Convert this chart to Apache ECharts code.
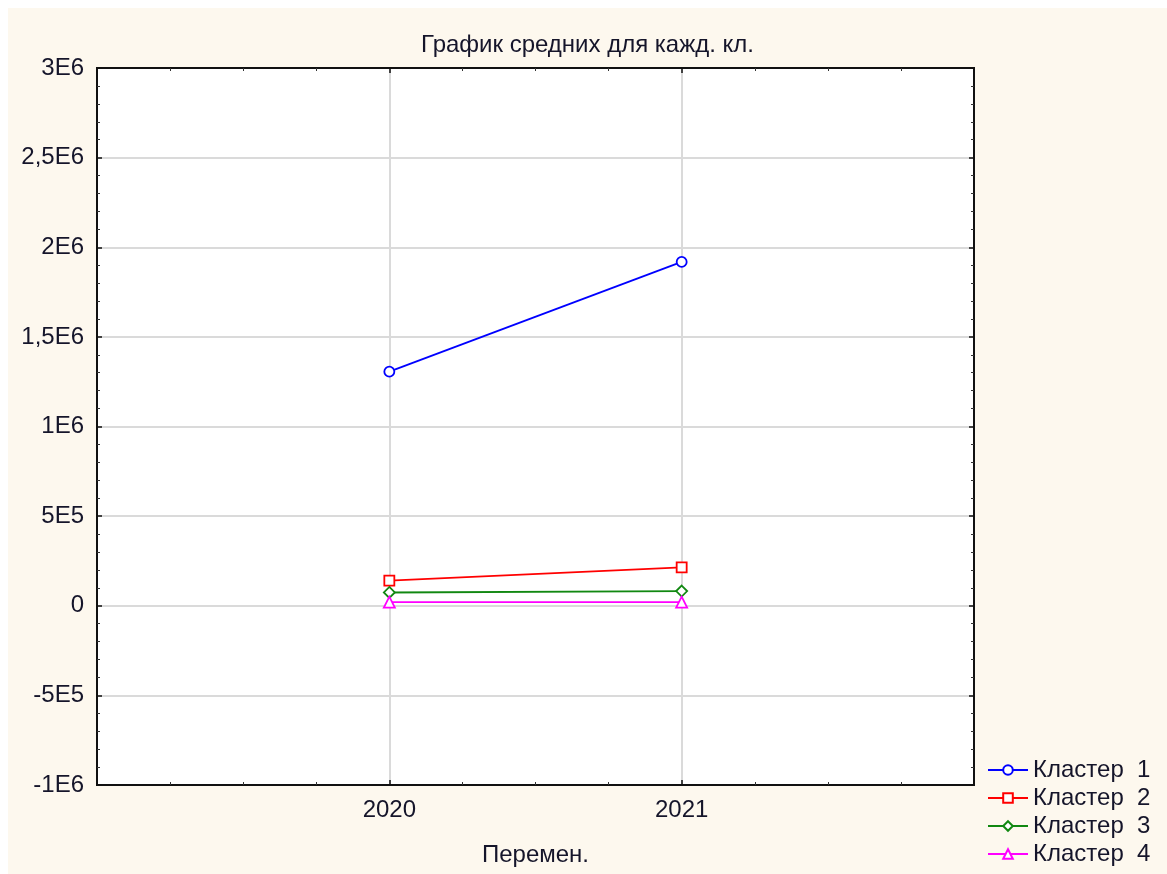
<!DOCTYPE html>
<html>
<head>
<meta charset="utf-8">
<script src="https://cdn.jsdelivr.net/npm/echarts@6/dist/echarts.min.js"></script>
<style>
  html, body { margin: 0; padding: 0; background: #ffffff; }
  #frame { position: absolute; left: 8px; top: 8px; width: 1159px; height: 866px; }
</style>
</head>
<body>
<div id="frame"></div>
<script>
// Variables (years) on the horizontal axis
const years = [2020, 2021];
// Cluster means per year
const cluster1 = [1306000, 1918000];
const cluster2 = [140000, 214000];
const cluster3 = [74000, 82000];
const cluster4 = [20000, 20000];
const seriesNames = ['Кластер  1', 'Кластер  2', 'Кластер  3', 'Кластер  4'];
// Vertical axis tick values and their printed labels
const yTickValues = [-1000000, -500000, 0, 500000, 1000000, 1500000, 2000000, 2500000, 3000000];
const yTickLabels = ['-1E6', '-5E5', '0', '5E5', '1E6', '1,5E6', '2E6', '2,5E6', '3E6'];
const xTickLabels = ['2020', '2021'];

const FONT = '"Liberation Sans", Arial, sans-serif';
const TEXT = '#15152a';

const chart = echarts.init(document.getElementById('frame'), null, { renderer: 'canvas' });

function pairs(vals) { return years.map((y, i) => [y, vals[i]]); }

const styles = [
  { color: '#0000ff', symbol: 'circle', size: 10 },
  { color: '#ff0000', symbol: 'rect', size: 10 },
  { color: '#118811', symbol: 'diamond', size: 11 },
  { color: '#ff00ff', symbol: 'triangle', size: 11 }
];
const allValues = [cluster1, cluster2, cluster3, cluster4];

const series = allValues.map((vals, i) => ({
  name: seriesNames[i],
  type: 'line',
  data: pairs(vals),
  xAxisIndex: 0,
  yAxisIndex: 0,
  symbol: styles[i].symbol,
  symbolSize: styles[i].size,
  showAllSymbol: true,
  lineStyle: { color: styles[i].color, width: 1.8 },
  itemStyle: { color: '#ffffff', borderColor: styles[i].color, borderWidth: 1.8 },
  emphasis: { disabled: true },
  animation: false
}));

const xBase = {
  type: 'value', min: 2019, max: 2022, interval: 1,
  axisLine: { show: true, onZero: false, lineStyle: { color: '#111', width: 2 } },
  axisTick: { show: true, inside: true, length: 5, lineStyle: { color: '#111', width: 1.5 } },
  minorTick: { show: true, splitNumber: 4, length: 3, lineStyle: { color: '#333', width: 1 } },
  minorSplitLine: { show: false }
};
const yBase = {
  type: 'value', min: -1000000, max: 3000000, interval: 500000,
  axisLine: { show: true, onZero: false, lineStyle: { color: '#111', width: 2 } },
  axisTick: { show: true, inside: true, length: 5, lineStyle: { color: '#111', width: 1.5 } },
  minorTick: { show: true, splitNumber: 5, length: 3, lineStyle: { color: '#333', width: 1 } },
  minorSplitLine: { show: false }
};

chart.setOption({
  backgroundColor: '#fdf8ee',
  animation: false,
  title: {
    text: 'График средних для кажд. кл.',
    left: 'center',
    top: 20,
    textStyle: { fontFamily: FONT, fontSize: 24, fontWeight: 'normal', color: TEXT }
  },
  grid: {
    left: 89, top: 60, right: 193, bottom: 89,
    show: true, backgroundColor: '#ffffff', borderColor: '#111', borderWidth: 2
  },
  legend: {
    orient: 'vertical',
    left: 974, top: 745,
    itemWidth: 40, itemHeight: 12, itemGap: 4,
    data: seriesNames,
    selectedMode: false,
    textStyle: { fontFamily: FONT, fontSize: 24, color: TEXT, lineHeight: 24, padding: [0, 0, 0, 0] }
  },
  xAxis: [
    Object.assign({}, xBase, {
      position: 'bottom',
      name: 'Перемен.', nameLocation: 'middle', nameGap: 58,
      nameTextStyle: { fontFamily: FONT, fontSize: 24, color: TEXT },
      axisLabel: {
        fontFamily: FONT, fontSize: 24, color: TEXT, margin: 13,
        formatter: v => { const i = years.indexOf(v); return i >= 0 ? xTickLabels[i] : ''; }
      },
      splitLine: { show: true, lineStyle: { color: '#dadada', width: 2 } }
    }),
    Object.assign({}, xBase, {
      position: 'top',
      axisLabel: { show: false },
      splitLine: { show: false }
    })
  ],
  yAxis: [
    Object.assign({}, yBase, {
      position: 'left',
      axisLabel: {
        fontFamily: FONT, fontSize: 24, color: TEXT, margin: 13,
        formatter: v => { const i = yTickValues.indexOf(v); return i >= 0 ? yTickLabels[i] : ''; }
      },
      splitLine: { show: true, lineStyle: { color: '#dadada', width: 2 } }
    }),
    Object.assign({}, yBase, {
      position: 'right',
      axisLabel: { show: false },
      splitLine: { show: false }
    })
  ],
  series: series
});
</script>
</body>
</html>
